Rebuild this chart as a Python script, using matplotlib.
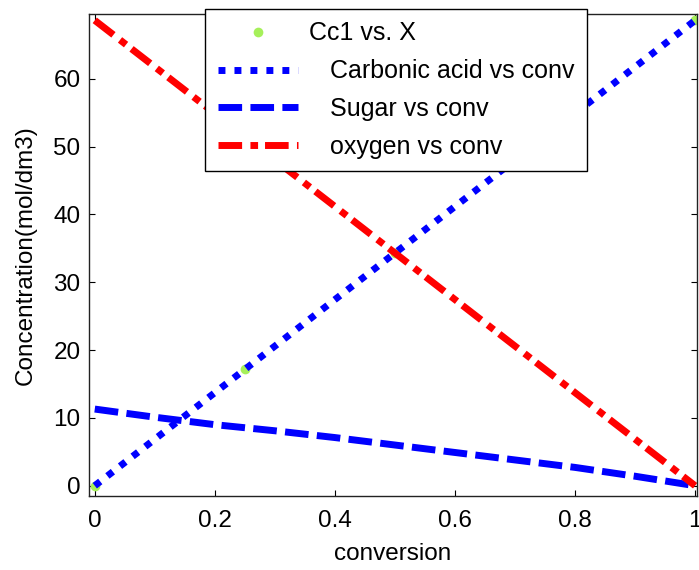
import matplotlib
matplotlib.use("Agg")
import matplotlib.pyplot as plt
import numpy as np

plt.rcParams['font.family'] = ['Liberation Sans', 'DejaVu Sans']
plt.rcParams['lines.scale_dashes'] = False

# data
conv = [0.0, 0.1, 0.2, 0.3, 0.4, 0.5, 0.6, 0.7, 0.8, 0.9, 1.0]
carbonic = [0.0, 6.86, 13.72, 20.58, 27.44, 34.3, 41.16, 48.02, 54.88, 61.74, 68.6]
sugar = [11.3, 10.1, 9.0, 8.1, 7.1, 6.0, 4.9, 3.8, 2.7, 1.4, 0.0]
oxygen = [68.6, 61.74, 54.88, 48.02, 41.16, 34.3, 27.44, 20.58, 13.72, 6.86, 0.0]

cc1_x = [0.0, 0.25, 0.5, 0.75, 1.0]
cc1_y = [0.0, 17.15, 34.3, 51.45, 68.6]

xticks = [0, 0.2, 0.4, 0.6, 0.8, 1]
xticklabels = ['0', '0.2', '0.4', '0.6', '0.8', '1']
yticks = [0, 10, 20, 30, 40, 50, 60]

fs = 17.5
leg_fs = 18

fig = plt.figure(figsize=(6.99, 5.70), dpi=100)
ax = fig.add_axes([0.127, 0.130, 0.870, 0.845])

ax.plot(cc1_x, cc1_y, linestyle='none', marker='o', markersize=7,
        color='#a6f05a', markeredgewidth=0, label='Cc1 vs. X')
ax.plot(conv, carbonic, color='#0000ff', lw=5, dashes=(5, 6.5),
        label='   Carbonic acid vs conv')
ax.plot(conv, sugar, color='#0000ff', lw=5, dashes=(17, 6),
        label='   Sugar vs conv')
ax.plot(conv, oxygen, color='#ff0000', lw=5, dashes=(17, 6, 5.5, 5),
        label='   oxygen vs conv')

ax.set_xlim(-0.01, 1.003)
ax.set_ylim(-1.5, 69.5)
ax.set_xticks(xticks)
ax.set_xticklabels(xticklabels)
ax.set_yticks(yticks)
ax.tick_params(direction='in', length=4, width=0.8, labelsize=fs,
               top=True, right=True)
ax.tick_params(axis='x', pad=10)
ax.tick_params(axis='y', pad=6)
for s in ax.spines.values():
    s.set_linewidth(1.0)
    s.set_color('#222222')

ax.set_xlabel('conversion', fontsize=fs, labelpad=8)
ax.set_ylabel('Concentration(mol/dm3)', fontsize=fs, labelpad=12)

leg = fig.legend(loc='upper left', bbox_to_anchor=(205 / 699, 1 - 9 / 570),
                 borderaxespad=0, fontsize=leg_fs, fancybox=False, framealpha=1,
                 edgecolor='black', handlelength=3.2, handletextpad=0.45,
                 labelspacing=0.55, borderpad=0.5)
leg.get_frame().set_linewidth(1.0)

fig.savefig('out.png', dpi=100)
